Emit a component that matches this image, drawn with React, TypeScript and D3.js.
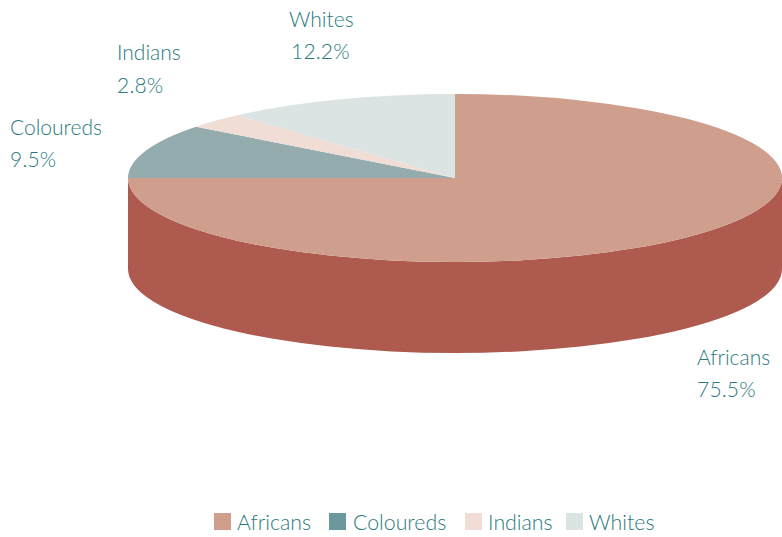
import React from "react";
import * as d3 from "d3";

const categories = ["Africans", "Coloureds", "Indians", "Whites"];
const shareLabels = ["75.5%", "9.5%", "2.8%", "12.2%"];
// Slice spans as drawn in the picture (percent of the ellipse's turn)
const drawnSpans = [75, 10.45, 2.95, 11.6];
const topColors = ["#cf9e8c", "#94acae", "#f0ddd6", "#dbe4e3"];
const legendColors = ["#cf9e8c", "#6a989d", "#f0ddd6", "#dbe4e3"];
const sideColor = "#ae5a4f";
const textColor = "#2a7a80";
const font = "Lato, sans-serif";

const W = 782, H = 537;
const cx = 455, cy = 178, rx = 327, ry = 84, depth = 91;

const labelPos = [
  { x: 697, y: 365, dy: 32 },
  { x: 10, y: 135, dy: 32 },
  { x: 117, y: 60, dy: 33 },
  { x: 289, y: 27, dy: 32 },
];
const percentX = [697, 10, 117, 291];
const legendX = [214, 329, 465, 566];
const legendTextX = [237, 353, 488, 589];

export default function App() {
  const pie = d3.pie<number>().sort(null).value((d) => d);
  const arcs = pie(drawnSpans);
  const arc = d3.arc<d3.PieArcDatum<number>>().innerRadius(0).outerRadius(rx);
  const side = `M${cx + rx},${cy} A${rx},${ry} 0 0 1 ${cx - rx},${cy} L${cx - rx},${cy + depth} A${rx},${ry} 0 0 0 ${cx + rx},${cy + depth} Z`;
  return (
    <svg width={W} height={H} viewBox={`0 0 ${W} ${H}`} style={{ position: "absolute", left: 0, top: 0, display: "block" }}>
      <path d={side} fill={sideColor} />
      <g transform={`translate(${cx},${cy}) scale(1,${ry / rx})`}>
        {arcs.map((a, i) => (
          <path key={i} d={arc(a) ?? ""} fill={topColors[i]} />
        ))}
      </g>
      {categories.map((c, i) => (
        <text key={c} fontFamily={font} fontWeight={300} fontSize={21} fill={textColor}>
          <tspan x={labelPos[i].x} y={labelPos[i].y}>{c}</tspan>
          <tspan x={percentX[i]} y={labelPos[i].y + labelPos[i].dy} letterSpacing={0.2}>{shareLabels[i]}</tspan>
        </text>
      ))}
      {categories.map((c, i) => (
        <g key={c}>
          <rect x={legendX[i]} y={513} width={17} height={17} fill={legendColors[i]} />
          <text x={legendTextX[i]} y={530} fontFamily={font} fontWeight={300} fontSize={21.3} fill={textColor}>{c}</text>
        </g>
      ))}
    </svg>
  );
}
